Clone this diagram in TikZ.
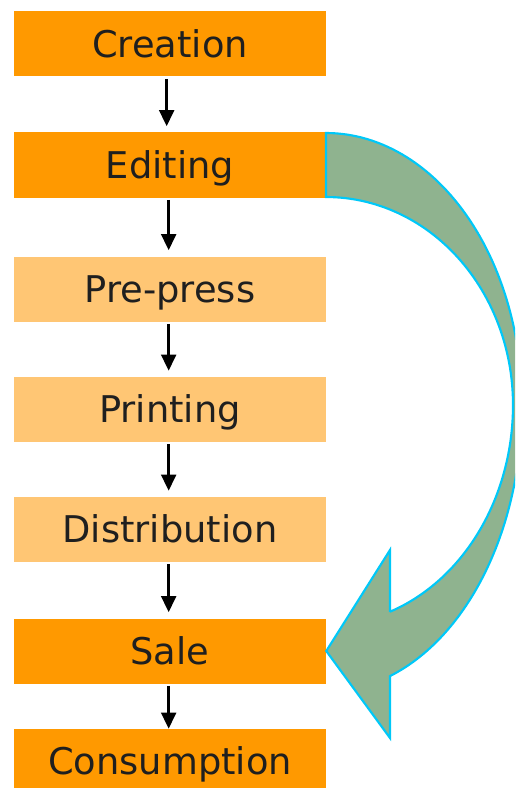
\documentclass[tikz,border=0pt]{standalone}
\usepackage{fontspec}
\setmainfont{DejaVu Sans}
\usetikzlibrary{arrows.meta}

\definecolor{stageDark}{HTML}{FF9900}
\definecolor{stageLight}{HTML}{FFC674}
\definecolor{loopFill}{HTML}{8FB38F}
\definecolor{loopLine}{HTML}{00C8F8}
\definecolor{labelInk}{HTML}{1F1F1F}

\tikzset{
  stage/.style={rectangle, draw=none, minimum width=234pt, minimum height=48.75pt,
    inner sep=0pt, text=labelInk, font=\fontsize{27.6}{33}\selectfont,
    text height=20.2pt, text depth=0pt},
  darkstage/.style={stage, fill=stageDark},
  lightstage/.style={stage, fill=stageLight},
  flow/.style={-{Triangle[width=11pt,length=12pt]}, line width=2pt, black,
    shorten <=1.5pt, shorten >=4.5pt},
}

\begin{document}
\begin{tikzpicture}[x=0.75pt, y=-0.75pt]
  % canvas
  \useasboundingbox (0,0) rectangle (515,788);
  \clip (0,0) rectangle (515,788);

  % production chain
  \node[darkstage]  (creation) at (170,44)    {Creation};
  \node[darkstage]  (editing)  at (170,165)   {Editing};
  \node[lightstage] (prepress) at (170,289)   {Pre-press};
  \node[lightstage] (printing) at (170,409.5) {Printing};
  \node[lightstage] (distrib)  at (170,529.5) {Distribution};
  \node[darkstage]  (sale)     at (170,651)   {Sale};
  \node[darkstage]  (consume)  at (170,761.5) {Consumption};

  \draw[flow] ([xshift=-2.5pt]creation.south) -- ([xshift=-2.5pt]editing.north);
  \draw[flow] ([xshift=-1pt]editing.south)  -- ([xshift=-1pt]prepress.north);
  \draw[flow] ([xshift=-1pt]prepress.south) -- ([xshift=-1pt]printing.north);
  \draw[flow] ([xshift=-1pt]printing.south) -- ([xshift=-1pt]distrib.north);
  \draw[flow] ([xshift=-1pt]distrib.south)  -- ([xshift=-1pt]sale.north);
  \draw[flow, shorten >=0pt] ([xshift=-1pt]sale.south) -- ([xshift=-1pt]consume.north);

  % curved arrow from Editing down to Sale
  \coordinate (loopTip) at (sale.east);
  \filldraw[fill=loopFill, draw=loopLine, line width=1.6pt, line join=miter]
    plot[domain=90:0, samples=60, variable=\t]
         ({326+196*cos(\t)}, {405-272*sin(\t)})
    -- plot[domain=0:-70.94, samples=60, variable=\t]
         ({326+196*cos(\t)}, {405-286.8*sin(\t)})
    -- (390,738)
    -- (loopTip)
    -- (390,550)
    -- (390,612)
    -- plot[domain=-70:0, samples=60, variable=\t]
         ({326+187*cos(\t)}, {405-220*sin(\t)})
    -- plot[domain=0:90, samples=60, variable=\t]
         ({326+187*cos(\t)}, {405-208*sin(\t)})
    -- cycle;
\end{tikzpicture}
\end{document}
